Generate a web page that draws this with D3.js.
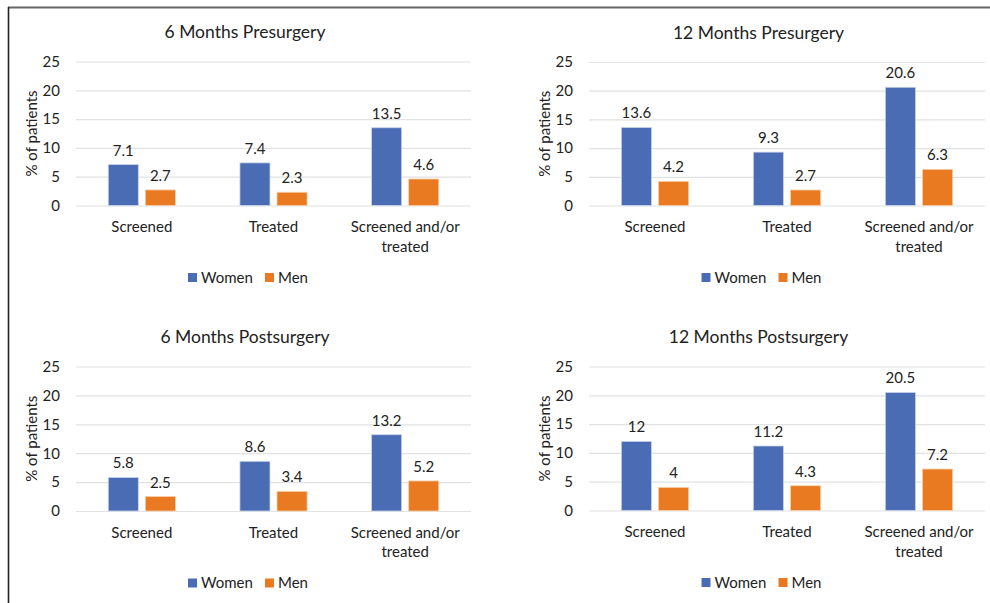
<!DOCTYPE html>
<html>
<head>
<meta charset="utf-8">
<script src="https://cdn.jsdelivr.net/npm/d3@7"></script>
<style>
  html, body { margin: 0; padding: 0; background: #fff; }
  svg { display: block; font-family: Lato, "Open Sans", sans-serif; }
</style>
</head>
<body>
<svg id="chart" width="990" height="603"></svg>
<script>
// ---- Data ----
const categories = ["Screened", "Treated", "Screened and/or treated"];
const seriesNames = ["Women", "Men"];
const yTicks = [0, 5, 10, 15, 20, 25];
const yLabel = "% of patients";

const titles = ["6 Months Presurgery", "12 Months Presurgery", "6 Months Postsurgery", "12 Months Postsurgery"];

const women6Pre = [7.1, 7.4, 13.5];
const men6Pre = [2.7, 2.3, 4.6];
const women12Pre = [13.6, 9.3, 20.6];
const men12Pre = [4.2, 2.7, 6.3];
const women6Post = [5.8, 8.6, 13.2];
const men6Post = [2.5, 3.4, 5.2];
const women12Post = [12, 11.2, 20.5];
const men12Post = [4, 4.3, 7.2];

// ---- Layout (positions only) ----
const layouts = [
  { x0: 76, x1: 471, yTop: 61.5, yBot: 205.5 },
  { x0: 589, x1: 985, yTop: 62, yBot: 205.5 },
  { x0: 76, x1: 471, yTop: 366.5, yBot: 511 },
  { x0: 589, x1: 985, yTop: 366.5, yBot: 510.5 }
];
const panelData = [
  [women6Pre, men6Pre],
  [women12Pre, men12Pre],
  [women6Post, men6Post],
  [women12Post, men12Post]
];

const colors = { Women: "#4A6CB4", Men: "#E97A22" };
const strokes = { Women: "#c9d4ec", Men: "#f6cfa9" };
const textColor = "#222";
const fs = "15px";

const svg = d3.select("#chart");

// frame
svg.append("line").attr("x1", 8).attr("x2", 990).attr("y1", 7.5).attr("y2", 7.5)
  .attr("stroke", "#666").attr("stroke-width", 2);
svg.append("line").attr("x1", 8.5).attr("x2", 8.5).attr("y1", 7).attr("y2", 603)
  .attr("stroke", "#222").attr("stroke-width", 1.6);

function wrap(textSel, width, baseY, lineGap) {
  textSel.each(function() {
    const text = d3.select(this);
    const words = text.text().split(/\s+/);
    text.text(null);
    let line = [];
    let lineNo = 0;
    let tspan = text.append("tspan").attr("x", 0).attr("y", baseY);
    words.forEach(w => {
      line.push(w);
      tspan.text(line.join(" "));
      if (tspan.node().getComputedTextLength() > width && line.length > 1) {
        line.pop();
        tspan.text(line.join(" "));
        line = [w];
        lineNo++;
        tspan = text.append("tspan").attr("x", 0).attr("y", baseY + lineNo * lineGap).text(w);
      }
    });
  });
}

layouts.forEach((L, i) => {
  const [women, men] = panelData[i];
  const rows = categories.map((c, j) => ({ cat: c, Women: women[j], Men: men[j] }));
  const g = svg.append("g");

  const y = d3.scaleLinear().domain([0, 25]).range([L.yBot, L.yTop]);
  const x = d3.scaleBand().domain(categories).range([L.x0, L.x1])
    .paddingInner(0.49).paddingOuter(0.245);
  const xs = d3.scaleBand().domain(seriesNames).range([0, x.bandwidth()]).paddingInner(0.189);
  const cx = (L.x0 + L.x1) / 2;

  // y axis with gridlines
  const yAxis = d3.axisLeft(y).tickValues(yTicks).tickSize(-(L.x1 - L.x0)).tickPadding(16);
  const ya = g.append("g").attr("transform", `translate(${L.x0},0)`).call(yAxis);
  ya.select(".domain").remove();
  ya.selectAll(".tick line").attr("stroke", "#e2e2e2").attr("stroke-width", 1.2);
  ya.selectAll(".tick text").attr("fill", textColor).style("font-size", fs)
    .style("font-family", "Lato, sans-serif");

  // x axis labels
  const xAxis = d3.axisBottom(x).tickSize(0).tickPadding(0);
  const xa = g.append("g").attr("transform", `translate(0,${L.yBot})`).call(xAxis);
  xa.select(".domain").remove();
  xa.selectAll(".tick text").attr("fill", textColor).style("font-size", fs)
    .style("font-family", "Lato, sans-serif")
    .attr("dy", null)
    .call(wrap, 122, 26.5, 19.5);

  // bars
  const grp = g.selectAll(".grp").data(rows).enter().append("g")
    .attr("transform", d => `translate(${x(d.cat)},0)`);
  grp.selectAll("rect").data(d => seriesNames.map(s => ({ s, v: d[s] }))).enter()
    .append("rect")
    .attr("x", d => xs(d.s))
    .attr("width", xs.bandwidth())
    .attr("y", d => y(d.v))
    .attr("height", d => y(0) - y(d.v))
    .attr("fill", d => colors[d.s])
    .attr("stroke", d => strokes[d.s]).attr("stroke-width", 0.8);
  grp.selectAll("text.val").data(d => seriesNames.map(s => ({ s, v: d[s] }))).enter()
    .append("text").attr("class", "val")
    .attr("x", d => xs(d.s) + xs.bandwidth() / 2)
    .attr("y", d => y(d.v) - 9)
    .attr("text-anchor", "middle")
    .attr("fill", textColor).style("font-size", fs)
    .text(d => d.v);

  // title
  g.append("text").attr("x", cx - 28.5).attr("y", L.yTop - 23.5)
    .attr("text-anchor", "middle").attr("fill", textColor)
    .style("font-size", "17.5px").text(titles[i]);

  // y label
  g.append("text")
    .attr("transform", `translate(${L.x0 - 39.5},${(L.yTop + L.yBot) / 2}) rotate(-90)`)
    .attr("text-anchor", "middle").attr("fill", textColor)
    .style("font-size", fs).text(yLabel);

  // legend
  const lg = g.append("g").attr("transform", `translate(${cx - 85.5},${L.yBot + 67.5})`);
  const items = lg.selectAll("g").data(seriesNames).enter().append("g")
    .attr("transform", (d, k) => `translate(${k * 77},0)`);
  items.append("rect").attr("width", 9).attr("height", 9).attr("fill", d => colors[d]);
  items.append("text").attr("x", 13).attr("y", 9.5).attr("fill", textColor)
    .style("font-size", fs).text(d => d);
});
</script>
</body>
</html>
